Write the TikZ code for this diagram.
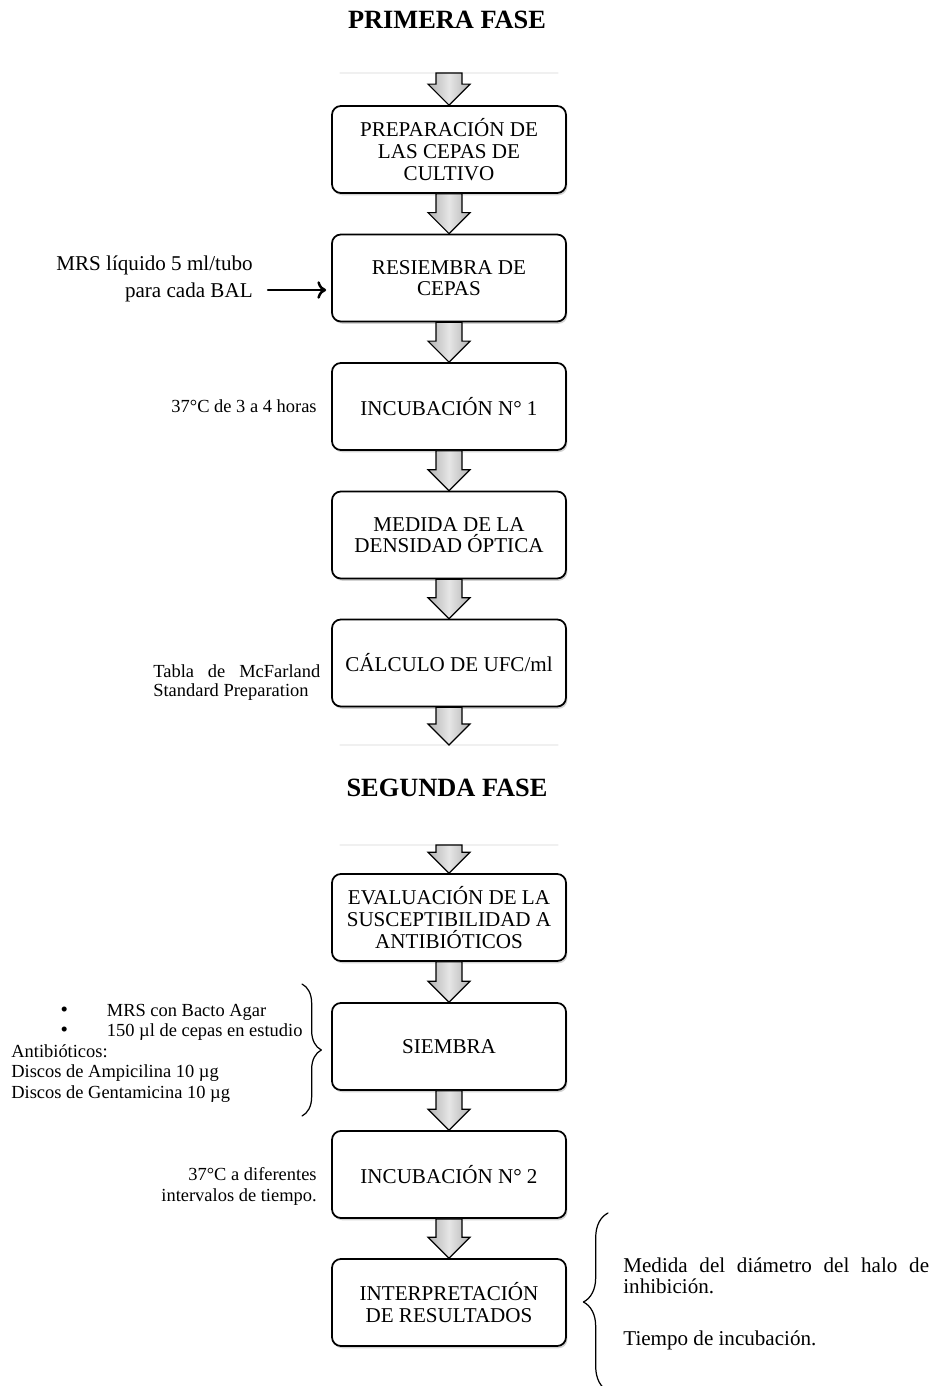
\documentclass[tikz,border=0pt]{standalone}
\usepackage{fontspec}
\setmainfont{Liberation Serif}
\usetikzlibrary{calc,shadows,decorations.pathreplacing,arrows.meta}
\newcommand{\bajada}[2]{%
	\draw[bloque] ($(#1)+(-13,0)$)--($(#2)+(-13,-21)$)--($(#2)+(-21,-21)$)--(#2)
	--($(#2)+(21,-21)$)--($(#2)+(13,-21)$)--($(#1)+(13,0)$)--cycle;}
\newcommand{\vineta}{\makebox[54.4pt][l]{\hspace{28pt}{\fontsize{12}{11.7}\selectfont\textbullet}}}
\begin{document}
\begin{tikzpicture}[x=0.02cm, y=-0.02cm, line join=round, line cap=round, >={To[length=5pt,width=10pt]},
	caja/.style={draw, line width=1pt, rounded corners=5pt, fill=white, minimum width=4.68cm,
		minimum height=1.74cm, align=center, font=\fontsize{12}{12.3}\selectfont,
		drop shadow={shadow xshift=0.8pt, shadow yshift=-1.3pt, opacity=0.35}},
	nota/.style={inner sep=0pt, font=\fontsize{10.5}{11.7}\selectfont},
	texto/.style={inner sep=0pt, font=\fontsize{12}{11.9}\selectfont},
	titulo/.style={font=\fontsize{15}{18}\selectfont\bfseries},
	bloque/.style={draw, line width=0.7pt, line join=miter, left color=gray!60,
		right color=gray!60, middle color=gray!20},
	raya/.style={gray!12, line width=0.6pt}]
	\useasboundingbox (0,0) rectangle (935,1386);
	\path
	(447,20) node[titulo] (fase1) {PRIMERA FASE}
	(447,788) node[titulo] (fase2) {SEGUNDA FASE};
	
	\node[caja] (prep) at (449,149.5) {PREPARACIÓN DE\\LAS CEPAS DE\\CULTIVO};
	\node[caja] (resiembra) at (449,278) {RESIEMBRA DE\\CEPAS};
	\node[caja] (incub1) at (449,406.5) {INCUBACIÓN N° 1};
	\node[caja] (densidad) at (449,535) {MEDIDA DE LA\\DENSIDAD ÓPTICA};
	\node[caja] (calculo) at (449,663) {CÁLCULO DE UFC/ml};
	\node[caja] (evaluacion) at (449,917.5) {EVALUACIÓN DE LA\\SUSCEPTIBILIDAD A\\ANTIBIÓTICOS};
	\node[caja] (siembra) at (449,1046.5) {SIEMBRA};
	\node[caja] (incub2) at (449,1174.5) {INCUBACIÓN N° 2};
	\node[caja] (interpreta) at (449,1302.5) {INTERPRETACIÓN\\DE RESULTADOS};
	
	\draw[raya] (340,73)--(558,73);
	\draw[raya] (340,745)--(558,745);
	\draw[raya] (340,845)--(558,845);
	\coordinate (ini1) at (449,73);
	\coordinate (fin1) at (449,745);
	\coordinate (ini2) at (449,845);
	\bajada{ini1}{prep.north}
	\bajada{prep.south}{resiembra.north}
	\bajada{resiembra.south}{incub1.north}
	\bajada{incub1.south}{densidad.north}
	\bajada{densidad.south}{calculo.north}
	\bajada{calculo.south}{fin1}
	\bajada{ini2}{evaluacion.north}
	\bajada{evaluacion.south}{siembra.north}
	\bajada{siembra.south}{incub2.north}
	\bajada{incub2.south}{interpreta.north}
	
	\path
	(253,279) node[texto, anchor=east, align=right, font=\fontsize{12}{15.5}\selectfont] (mrs)
		{MRS líquido 5 ml/tubo\\para cada BAL}
	(317,406) node[nota, anchor=east] (temp1) {37°C de 3 a 4 horas}
	(153,682.5) node[nota, anchor=west, align=left, font=\fontsize{10.5}{11}\selectfont] (tabla)
		{\makebox[95pt][s]{Tabla de McFarland}\\Standard Preparation}
	(11,1053) node[nota, anchor=west, align=left] (medios)
		{\vineta MRS con Bacto Agar\\
		\vineta 150 µl de cepas en estudio\\
		Antibióticos:\\Discos de Ampicilina 10 µg\\Discos de Gentamicina 10 µg}
	(317,1186.5) node[nota, anchor=east, align=right] (temp2)
		{37°C a diferentes\\intervalos de tiempo.}
	(623,1257.5) node[texto, anchor=north west, align=left] (medida)
		{\makebox[174pt][s]{Medida del diámetro del halo de}\\inhibición.\\[17.6pt]Tiempo de incubación.};
	
	\draw[->, line width=1.4pt] (mrs.east)++(15,11)--($(resiembra.west)+(-5,12)$);
	\draw[decorate, decoration={brace, amplitude=11pt}, line width=0.7pt] (302,984)--(302,1116);
	\draw[decorate, decoration={brace, amplitude=14pt}, line width=0.7pt] (608,1391)--(608,1213);
\end{tikzpicture}
\end{document}
